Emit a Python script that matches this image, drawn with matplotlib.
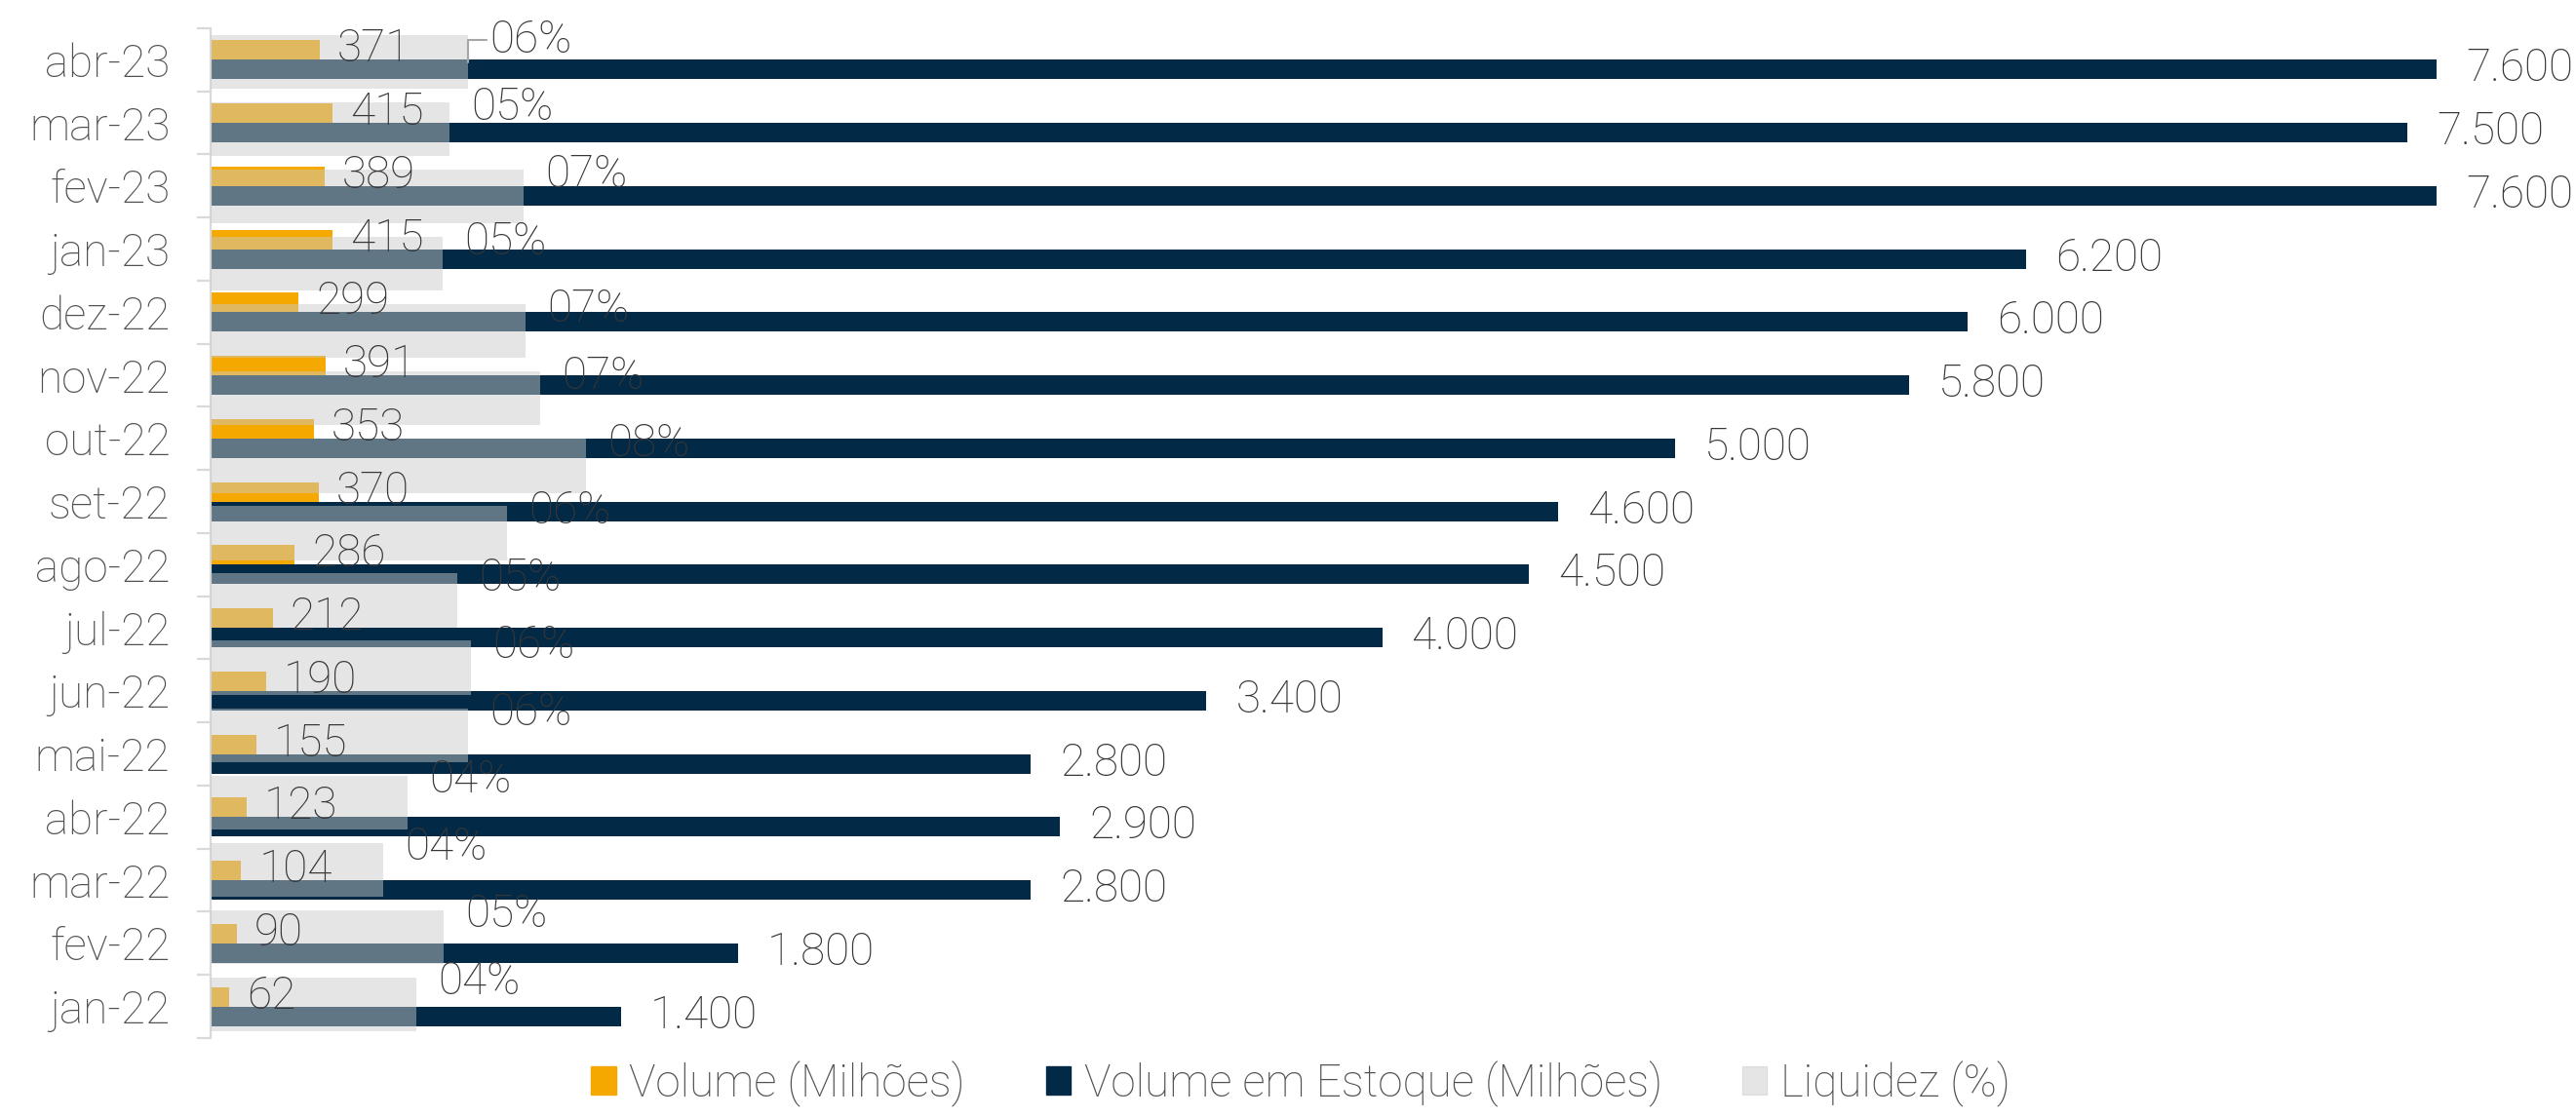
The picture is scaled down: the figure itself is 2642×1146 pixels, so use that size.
import numpy as np
import matplotlib.pyplot as plt
from matplotlib.patches import Patch

# data, chronological (bottom row first)
months = ["jan-22", "fev-22", "mar-22", "abr-22", "mai-22", "jun-22", "jul-22", "ago-22",
          "set-22", "out-22", "nov-22", "dez-22", "jan-23", "fev-23", "mar-23", "abr-23"]
volume = [62, 90, 104, 123, 155, 190, 212, 286, 370, 353, 391, 299, 415, 389, 415, 371]
estoque = [1400, 1800, 2800, 2900, 2800, 3400, 4000, 4500, 4600, 5000, 5800, 6000, 6200, 7600, 7500, 7600]
# liquidez series has 15 points on its own category axis
liquidez = [4.44, 5.03, 3.73, 4.25, 5.56, 5.62, 5.33, 6.40, 8.11, 7.12, 6.80, 5.01, 6.76, 5.16, 5.56]

GOLD = "#F5A800"
NAVY = "#022A47"
GRAY = "#CACACA"
TXT = "#363636"
LBL = "#505050"

plt.rcParams['font.family'] = ['Roboto', 'DejaVu Sans']
plt.rcParams['font.weight'] = 'light'
FS = 33


def main():
    fig = plt.figure(figsize=(26.42, 11.46), dpi=100)
    pos = [0.0818, 0.0707, 0.9913 - 0.0818, 0.9747 - 0.0707]
    ax = fig.add_axes(pos, zorder=1)
    axg = fig.add_axes(pos, zorder=2, frameon=False)

    y = np.arange(len(months))
    h = 0.31
    ax.barh(y + h / 2, volume, height=h, color=GOLD)
    ax.barh(y - h / 2, estoque, height=h, color=NAVY)
    ax.set_xlim(0, 8000)
    ax.set_ylim(-0.5, len(months) - 0.5)

    yg = np.arange(len(liquidez))
    axg.barh(yg, liquidez, height=0.8, color=GRAY, alpha=0.48)
    axg.set_xlim(0, 2403 / 47.5)
    axg.set_ylim(-0.5, len(liquidez) - 0.5)
    axg.set_xticks([])
    axg.set_yticks([])

    # axis styling
    for s in ["top", "right", "bottom"]:
        ax.spines[s].set_visible(False)
    ax.spines["left"].set_color("#D9D9D9")
    ax.spines["left"].set_linewidth(1.6)
    ax.set_xticks([])
    ax.set_yticks(y)
    ax.set_yticklabels(months, fontsize=FS, color=LBL)
    ax.tick_params(axis="y", which="major", length=0, pad=30)
    ax.set_yticks(np.arange(-0.5, len(months)), minor=True)
    ax.tick_params(axis="y", which="minor", length=10, width=1.6, color="#D9D9D9")

    # value labels
    for i in range(len(months)):
        axg.annotate(str(volume[i]), xy=(volume[i], y[i] + h / 2), xycoords=ax.transData,
                     xytext=(18, -12), textcoords="offset pixels", fontsize=FS,
                     color=TXT, va="baseline", ha="left", annotation_clip=False)
        axg.annotate(f"{estoque[i]:,}".replace(",", "."), xy=(estoque[i], y[i] - h / 2),
                     xycoords=ax.transData, xytext=(30, -12), textcoords="offset pixels",
                     fontsize=FS, color=TXT, va="baseline", ha="left", annotation_clip=False)
    for j, v in enumerate(liquidez):
        kw = {}
        if j == len(liquidez) - 1:
            kw = dict(arrowprops=dict(arrowstyle="-", color="#A6A6A6", lw=1.5,
                                      connectionstyle="angle,angleA=0,angleB=90,rad=0",
                                      shrinkA=0, shrinkB=0))
        axg.annotate(f"{round(v):02d}%", xy=(v, yg[j]), xytext=(22, 10),
                     textcoords="offset pixels", fontsize=FS, color=TXT,
                     va="baseline", ha="left", annotation_clip=False, **kw)

    handles = [Patch(color=GOLD), Patch(color=NAVY), Patch(color=GRAY, alpha=0.48)]
    fig.legend(handles, ["Volume (Milhões)", "Volume em Estoque (Milhões)", "Liquidez (%)"],
               loc="lower center", bbox_to_anchor=(0.505, -0.011), ncol=3, frameon=False,
               fontsize=FS, labelcolor=LBL, handlelength=0.55, handleheight=0.6,
               handletextpad=0.3, columnspacing=1.8, borderpad=0)

    fig.savefig("out.png", dpi=100)
    plt.close(fig)


if __name__ == '__main__':
    main()
